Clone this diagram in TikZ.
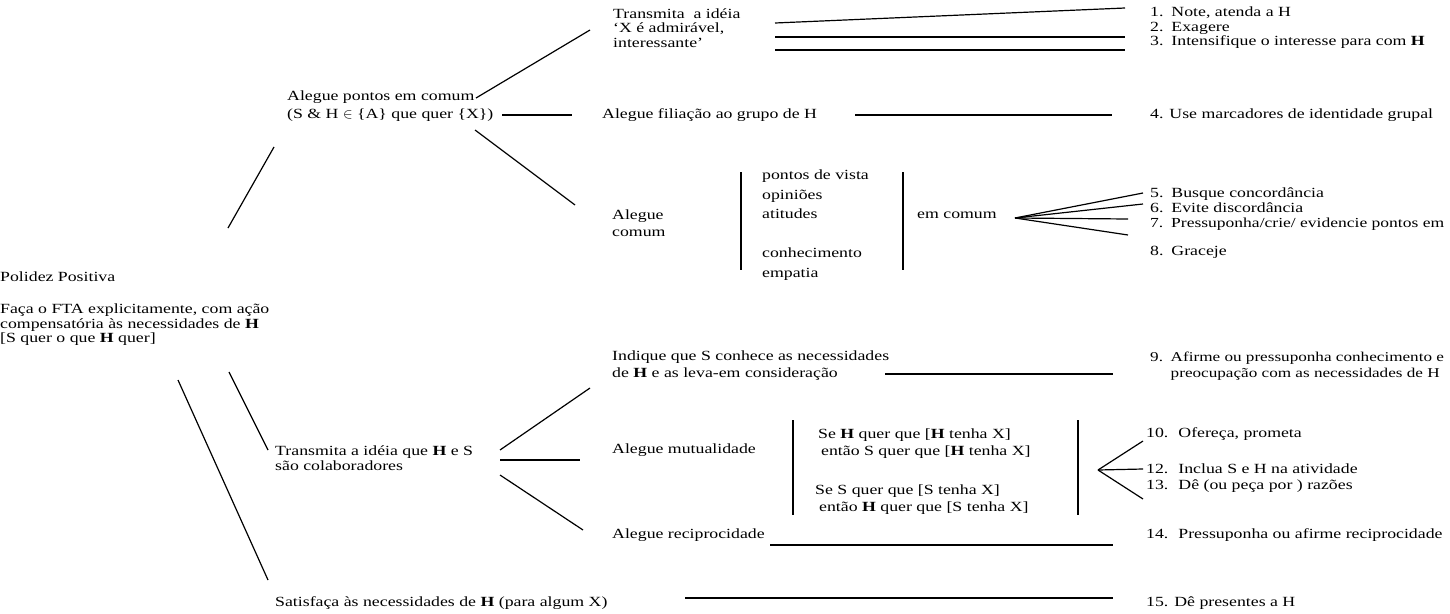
\documentclass[tikz,border=0pt]{standalone}
\usepackage{fontspec}
\setmainfont{Liberation Serif}[FakeStretch=1.27]
\usetikzlibrary{positioning}
\newcommand{\Hb}{\textbf{H}}
\newcommand{\nr}[2][1.52em]{\makebox[#1][l]{#2}}

\begin{document}
\begin{tikzpicture}[
	x=1pt,y=-1pt,
	txt/.style={anchor=west,inner sep=0pt,align=left,font=\fontsize{14}{14.5}\selectfont},
	mid/.style={txt,font=\fontsize{14}{17}\selectfont},
	wide/.style={txt,font=\fontsize{14}{19.5}\selectfont},
	line/.style={draw,line width=1.2pt}
	]
	\useasboundingbox (0,0) rectangle (1450,613);
	% left column
	\node[txt] (polidez) at (0,277) {Polidez Positiva};
	\node[txt] (fta) at (0,325) {Faça o FTA explicitamente, com ação\\compensatória às necessidades de \Hb\\{}[S quer o que \Hb{} quer]};
	\node[txt,font=\fontsize{14}{18}\selectfont] (pontos) at (287,106) {Alegue pontos em comum\\(S \& H $\in$ \{A\} que quer \{X\})};
	\node[txt] (colab) at (275,458) {Transmita a idéia que \Hb{} e S\\são colaboradores};
	\node[txt] (satisf) at (275,603) {Satisfaça às necessidades de \Hb{} (para algum X)};
	% middle column
	\node[txt] (admir) at (613,28) {Transmita\ \ a idéia\\`X é admirável,\\interessante'};
	\node[txt] (filia) at (602,115) {Alegue filiação ao grupo de H};
	\node[mid] (alcomum) at (612,223) {Alegue\\comum};
	\node[wide] (vista) at (762,225) {pontos de vista\\opiniões\\atitudes\\[19.5pt]conhecimento\\empatia};
	\node[txt] (emcomum) at (917,215) {em comum};
	\node[mid] (indique) at (612,366) {Indique que S conhece as necessidades\\de \Hb{} e as leva-em consideração};
	\node[txt] (mutual) at (612,450) {Alegue mutualidade};
	\node[txt] (recipr) at (612,535) {Alegue reciprocidade};
	\node[mid] (sehh) at (818,444) {Se \Hb{} quer que [\Hb{} tenha X]\\\hspace*{3pt}então S quer que [\Hb{} tenha X]};
	\node[mid] (sess) at (815,500) {Se S quer que [S tenha X]\\\hspace*{4pt}então \Hb{} quer que [S tenha X]};
	% right column
	\node[txt] (note) at (1150,13) {\nr{1.}Note, atenda a H};
	\node[txt,below=14.5pt of note.base west,anchor=base west] (exag) {\nr{2.}Exagere};
	\node[txt,below=14.5pt of exag.base west,anchor=base west] (intens) {\nr{3.}Intensifique o interesse para com \Hb};
	\node[txt] (marcad) at (1150,115) {4. Use marcadores de identidade grupal};
	\node[txt] (busque) at (1150,194) {\nr{5.}Busque concordância};
	\node[txt,below=15pt of busque.base west,anchor=base west] (evite) {\nr{6.}Evite discordância};
	\node[txt,below=15pt of evite.base west,anchor=base west,font=\fontsize{13.8}{14.5}\selectfont] (pressup) {\nr{7.}Pressuponha/crie/ evidencie pontos em};
	\node[txt] (graceje) at (1150,252) {\nr{8.}Graceje};
	\node[txt,font=\fontsize{13.5}{16}\selectfont] (afirme) at (1150,366) {\nr{9.}Afirme ou pressuponha conhecimento e\\\hspace*{1.52em}preocupação com as necessidades de H};
	\node[txt] (oferec) at (1146,434) {\nr[2.3em]{10.}Ofereça, prometa};
	\node[txt] (inclua) at (1146,469) {\nr[2.3em]{12.}Inclua S e H na atividade};
	\node[txt,below=16pt of inclua.base west,anchor=base west] (razoes) {\nr[2.3em]{13.}Dê (ou peça por ) razões};
	\node[txt] (afrecip) at (1146,535) {\nr[2.3em]{14.}Pressuponha ou afirme reciprocidade};
	\node[txt] (present) at (1146,603) {15. Dê presentes a H};

	% line ends
	\coordinate (ru-a) at (228,228);  \coordinate (ru-b) at (274,147);
	\coordinate (rm-a) at (229,372);  \coordinate (rm-b) at (268,450);
	\coordinate (rl-a) at (178,380);  \coordinate (rl-b) at (268,580);
	\coordinate (pa-a) at (476,98);   \coordinate (pa-b) at (590,30);
	\coordinate (pf-a) at (502,115);  \coordinate (pf-b) at (572,115);
	\coordinate (pc-a) at (475,130);  \coordinate (pc-b) at (575,205);
	\coordinate (a1-a) at (775,23);   \coordinate (a1-b) at (1125,8);
	\coordinate (a2-a) at (775,37);   \coordinate (a2-b) at (1125,37);
	\coordinate (a3-a) at (775,50);   \coordinate (a3-b) at (1125,50);
	\coordinate (f4-a) at (855,115);  \coordinate (f4-b) at (1112,115);
	\coordinate (bar1-a) at (741,172); \coordinate (bar1-b) at (741,270);
	\coordinate (bar2-a) at (903,172); \coordinate (bar2-b) at (903,270);
	\coordinate (fan1) at (1015,218);
	\coordinate (f5) at (1143,193); \coordinate (f6) at (1143,204);
	\coordinate (f7) at (1128,219); \coordinate (f8) at (1128,235);
	\coordinate (i9-a) at (885,374);  \coordinate (i9-b) at (1113,374);
	\coordinate (ci-a) at (500,450);  \coordinate (ci-b) at (590,388);
	\coordinate (cm-a) at (500,460);  \coordinate (cm-b) at (580,460);
	\coordinate (cr-a) at (500,475);  \coordinate (cr-b) at (583,530);
	\coordinate (bar3-a) at (793,420); \coordinate (bar3-b) at (793,515);
	\coordinate (bar4-a) at (1078,420); \coordinate (bar4-b) at (1078,515);
	\coordinate (fan2) at (1098,470);
	\coordinate (f10) at (1143,441); \coordinate (f12) at (1143,469);
	\coordinate (f13) at (1143,499);
	\coordinate (r14-a) at (770,545); \coordinate (r14-b) at (1113,545);
	\coordinate (s15-a) at (685,598); \coordinate (s15-b) at (1113,598);

	\path[line]
	(ru-a) edge (ru-b)
	(rm-a) edge (rm-b)
	(rl-a) edge (rl-b)
	(pa-a) edge (pa-b)
	(pf-a) edge (pf-b)
	(pc-a) edge (pc-b)
	(a1-a) edge (a1-b)
	(a2-a) edge (a2-b)
	(a3-a) edge (a3-b)
	(f4-a) edge (f4-b)
	(bar1-a) edge (bar1-b)
	(bar2-a) edge (bar2-b)
	(fan1) edge (f5)
	(fan1) edge (f6)
	(fan1) edge (f7)
	(fan1) edge (f8)
	(i9-a) edge (i9-b)
	(ci-a) edge (ci-b)
	(cm-a) edge (cm-b)
	(cr-a) edge (cr-b)
	(bar3-a) edge (bar3-b)
	(bar4-a) edge (bar4-b)
	(fan2) edge (f10)
	(fan2) edge (f12)
	(fan2) edge (f13)
	(r14-a) edge (r14-b)
	(s15-a) edge (s15-b);
\end{tikzpicture}
\end{document}
